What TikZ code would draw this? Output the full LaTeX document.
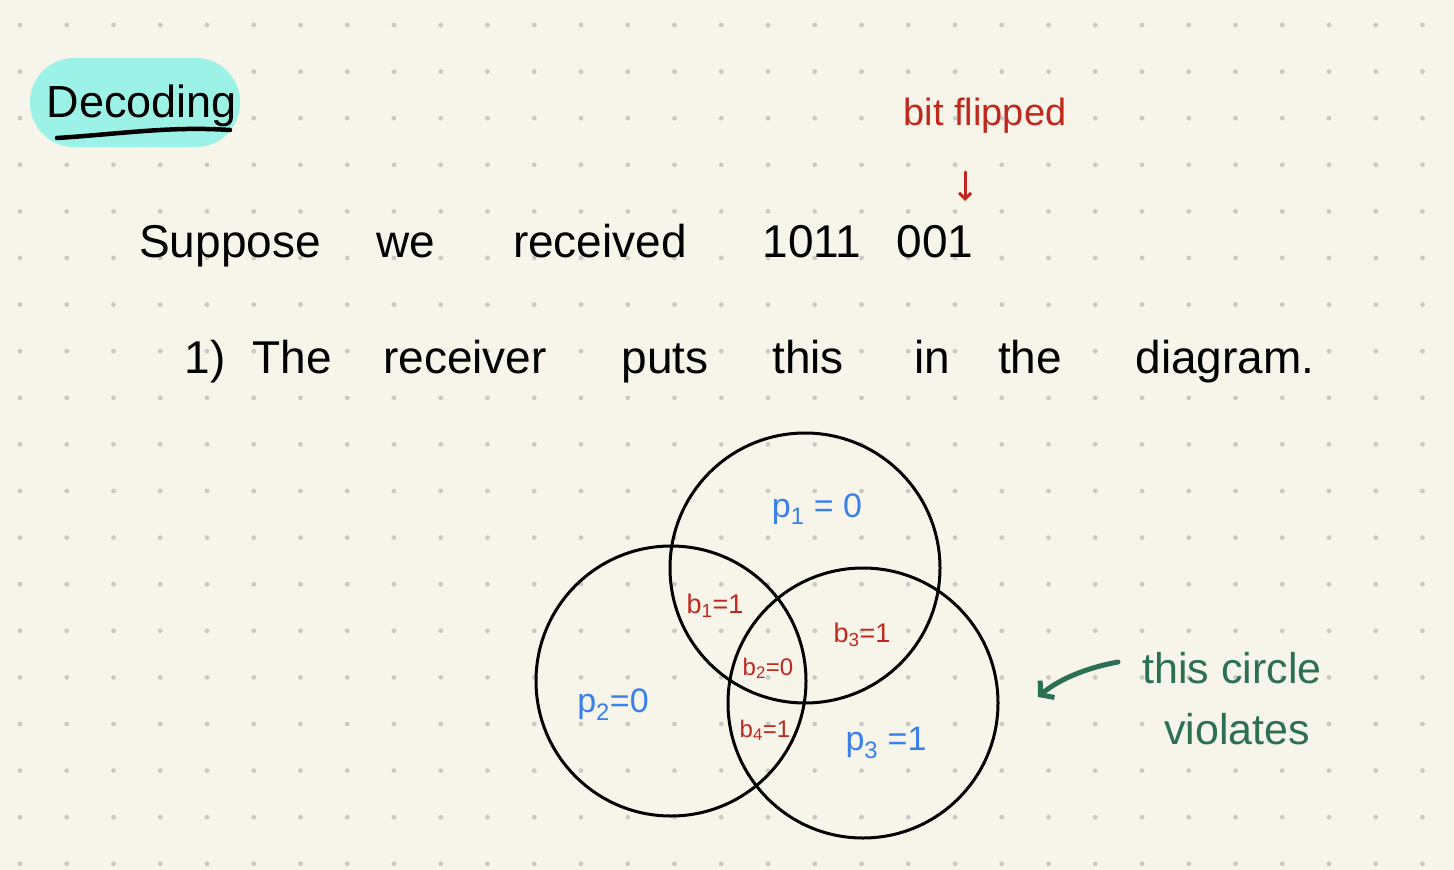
\documentclass[tikz,border=0pt]{standalone}
\usepackage{fontspec}
\setmainfont{Liberation Sans}
\usetikzlibrary{arrows.meta}
\definecolor{paper}{HTML}{F7F5EA}
\definecolor{griddot}{HTML}{C9C9C6}
\definecolor{hilite}{HTML}{9CF2E6}
\definecolor{inkred}{HTML}{C0281E}
\definecolor{inkblue}{HTML}{3A80EA}
\definecolor{inkgreen}{HTML}{2C7053}
\tikzset{
  word/.style={anchor=base, inner sep=0pt, font=\fontsize{46}{50}\selectfont},
  redlbl/.style={anchor=base, inner sep=0pt, text=inkred, font=\fontsize{27}{30}\selectfont},
  bluelbl/.style={anchor=base, inner sep=0pt, text=inkblue, font=\fontsize{34}{38}\selectfont},
  greenlbl/.style={anchor=base, inner sep=0pt, text=inkgreen, font=\fontsize{43}{47}\selectfont},
  venn/.style={circle, draw=black, line width=3pt, minimum size=270pt, inner sep=0pt},
}
\begin{document}
\begin{tikzpicture}[x=1pt,y=-1pt]
\useasboundingbox (0,0) rectangle (1454,870);
\fill[paper] (0,0) rectangle (1454,870);
\foreach \i in {0,...,30}{
  \foreach \j in {0,...,18}{
    \fill[griddot] ({20+46.75*\i},{25+46.6*\j}) circle (2.4pt);
  }
}
% title
\fill[hilite, rounded corners=44pt] (30,58) rectangle (240,147);
\node[word, font=\fontsize{45}{50}\selectfont] (title) at (142,117) {Decoding};
\draw[line width=4.5pt, line cap=round] (57,138) .. controls (120,134) and (170,126) .. (230,130);
% bit flipped
\node[anchor=base, inner sep=0pt, text=inkred, font=\fontsize{38}{42}\selectfont] (flip) at (985,125) {bit flipped};
\coordinate (fliptop) at (965,172);
\coordinate (flipend) at (965,201);
\draw[inkred, line width=3pt, line cap=round, -{Straight Barb[length=6pt,width=12pt]}] (fliptop) -- (flipend);
% line 1
\node[word] (w1) at (230,257) {Suppose};
\node[word] (w2) at (406,257) {we};
\node[word] (w3) at (600,257) {received};
\node[word] (w4) at (812,257) {1011};
\node[word] (w5) at (935,257) {001};
% line 2
\node[word] (v1) at (205,373) {1)};
\node[word] (v2) at (292,373) {The};
\node[word] (v3) at (465,373) {receiver};
\node[word] (v4) at (665,373) {puts};
\node[word] (v5) at (808,373) {this};
\node[word] (v6) at (932,373) {in};
\node[word] (v7) at (1030,373) {the};
\node[word] (v8) at (1225,373) {diagram.};
% venn
\node[venn] (c1) at (805,568) {};
\node[venn] (c2) at (671,681) {};
\node[venn] (c3) at (863,703) {};
\node[bluelbl] (p1) at (817,517) {p\textsubscript{1} = 0};
\node[bluelbl] (p2) at (613,712) {p\textsubscript{2}=0};
\node[bluelbl] (p3) at (886,750) {p\textsubscript{3} =1};
\node[redlbl] (b1) at (715,613) {b\textsubscript{1}=1};
\node[redlbl] (b3) at (862,642) {b\textsubscript{3}=1};
\node[redlbl, font=\fontsize{24}{27}\selectfont] (b2) at (768,675) {b\textsubscript{2}=0};
\node[redlbl, font=\fontsize{24}{27}\selectfont] (b4) at (765,737) {b\textsubscript{4}=1};
% note
\node[greenlbl] (n1) at (1232,683) {this circle};
\node[greenlbl] (n2) at (1237,744) {violates};
\coordinate (ntail) at (1118,662);
\coordinate (ntip) at (1038,697);
\draw[inkgreen, line width=5pt, line cap=round, -{Straight Barb[length=9pt,width=22pt]}] (ntail) .. controls (1085,668) and (1058,680) .. (ntip);
\end{tikzpicture}
\end{document}
